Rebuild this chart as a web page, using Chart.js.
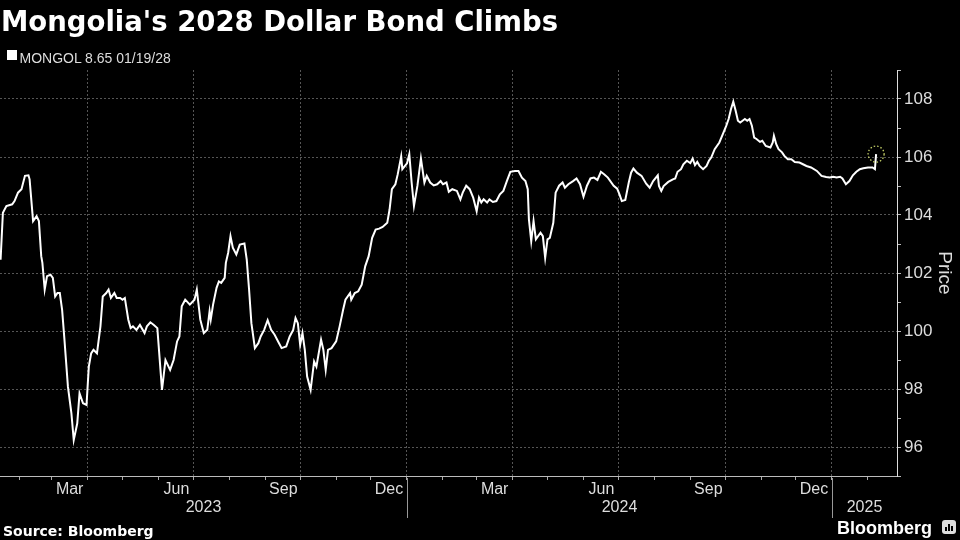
<!DOCTYPE html>
<html>
<head>
<meta charset="utf-8">
<script src="https://cdn.jsdelivr.net/npm/chart.js@4.4.0/dist/chart.umd.min.js"></script>
<style>
  html, body { margin: 0; padding: 0; background: #000; }
  #wrap { position: relative; width: 960px; height: 540px; overflow: hidden; background: #000; }
  #chart { position: absolute; left: 0; top: 0; }
  .txt { position: absolute; white-space: nowrap; line-height: 1; }
  #title { left: 1px; top: 5px; font: bold 27.5px "DejaVu Sans"; color: #fff; }
  #legend { left: 7px; top: 50px; font: 14px "Liberation Sans"; color: #ddd; }
  #legend .box { position: absolute; left: 0; top: 0; width: 10px; height: 10px; background: #fff; }
  #legend span { position: absolute; left: 12.5px; top: 0; }
  #source { left: 3px; top: 522.5px; font: bold 14px "DejaVu Sans"; color: #fff; }
  #logo { left: 837px; top: 518px; font: bold 18px "Liberation Sans"; color: #fff; }
  #icon { position: absolute; left: 942px; top: 520px; width: 14px; height: 14px; background: #ddd; border-radius: 3px; }
  #icon i { position: absolute; bottom: 3px; width: 2px; background: #000; }
</style>
</head>
<body>
<div id="wrap">
  <canvas id="chart" width="960" height="540"></canvas>
  <div id="title" class="txt">Mongolia's 2028 Dollar Bond Climbs</div>
  <div id="legend" class="txt"><div class="box"></div><span>MONGOL 8.65 01/19/28</span></div>
  <div id="source" class="txt">Source: Bloomberg</div>
  <div id="logo" class="txt">Bloomberg</div>
  <div id="icon"><i style="left:3px;height:4px"></i><i style="left:6px;height:7px"></i><i style="left:9px;height:5px"></i></div>
</div>
<script>
// days counted from 2023-01-01
const days = [15,17,20,25,27,30,33,36,39,40,43,46,48,50,51,53,55,58,60,62,64,66,68,70,73,76,78,81,83,86,89,91,93,95,98,
  101,103,106,108,110,113,115,118,120,122,125,127,129,132,135,139,141,144,147,150,154,155,157,161,164,167,169,171,174,178,
  182,184,187,190,193,195,196,198,201,203,205,208,209,211,213,215,218,221,225,227,229,231,234,237,239,242,245,248,251,254,
  257,261,264,267,269,271,273,275,277,279,282,285,287,291,293,295,297,300,304,307,310,312,316,317,320,323,326,329,332,335,
  338,341,344,348,350,352,355,357,360,361,365,367,369,371,374,377,380,382,385,388,391,394,396,399,401,404,408,411,413,416,
  419,422,425,427,429,431,434,436,439,442,445,448,451,454,458,461,464,467,469,470,472,474,476,480,482,484,486,488,491,493,
  496,499,501,504,508,511,514,517,520,523,526,529,532,535,538,543,546,548,550,553,556,558,560,563,567,571,574,577,581,582,
  584,586,590,594,596,598,601,603,606,609,611,613,615,617,620,623,625,627,630,634,637,640,642,644,646,648,650,652,654,656,
  658,660,662,664,666,669,671,674,678,680,681,683,685,688,690,693,696,699,703,706,709,713,718,722,726,729,732,735,738,740,
  743,746,749,752,755,758,762,766,768,769]

const prices = [102.46,104.08,104.31,104.37,104.48,104.77,104.89,105.35,105.37,105.23,103.79,103.96,103.79,102.58,102.35,
  101.43,101.89,101.94,101.83,101.19,101.31,101.31,100.73,99.70,98.08,97.16,96.24,96.81,97.85,97.51,97.45,98.77,99.23,99.35,
  99.23,100.16,101.19,101.31,101.43,101.14,101.31,101.14,101.14,101.08,101.14,100.39,100.10,100.16,100.04,100.21,99.93,100.16,
  100.30,100.21,100.10,97.97,98.31,99.00,98.66,99.00,99.64,99.81,100.85,101.08,100.91,101.08,101.43,100.39,99.93,100.04,
  100.68,100.39,100.91,101.49,101.71,101.66,101.83,102.35,102.70,103.27,102.87,102.64,102.98,103.02,102.46,101.43,100.27,
  99.41,99.58,99.81,100.04,100.37,100.04,99.87,99.64,99.41,99.47,99.81,100.04,100.45,100.27,99.52,99.93,99.35,98.43,97.97,
  98.95,98.77,99.70,99.35,98.66,99.35,99.41,99.64,100.16,100.73,101.08,101.31,101.08,101.31,101.37,101.60,102.23,102.58,
  103.21,103.50,103.53,103.59,103.73,104.19,104.89,105.06,105.40,106.02,105.58,105.78,106.10,105.12,104.31,105.01,105.95,
  105.12,105.35,105.12,105.02,105.06,105.17,105.06,105.12,104.80,104.89,104.83,104.54,104.77,105.01,104.89,104.60,104.13,
  104.60,104.43,104.54,104.43,104.54,104.45,104.48,104.71,104.83,105.17,105.49,105.52,105.52,105.29,105.17,104.89,103.85,
  103.10,103.79,103.16,103.39,103.27,102.52,103.16,103.21,103.73,104.77,105.01,105.12,104.94,105.06,105.17,105.26,105.06,
  104.63,105.01,105.26,105.29,105.21,105.49,105.40,105.29,105.01,104.91,104.71,104.48,104.52,105.12,105.46,105.60,105.46,
  105.35,105.08,104.94,105.17,105.37,105.00,104.83,105.00,105.14,105.23,105.26,105.49,105.58,105.75,105.87,105.79,105.95,
  105.72,105.83,105.69,105.58,105.69,105.87,105.98,106.27,106.50,106.79,107.08,107.31,107.65,107.91,107.60,107.25,107.19,
  107.25,107.31,107.25,107.31,107.08,106.67,106.62,106.52,106.56,106.38,106.33,106.50,106.73,106.44,106.27,106.16,106.04,
  105.92,105.92,105.83,105.81,105.75,105.69,105.64,105.52,105.35,105.31,105.29,105.32,105.29,105.32,105.26,105.06,105.17,
  105.37,105.49,105.58,105.61,105.64,105.64,105.58,106.10]

const monthLabels = ['', '', 'Mar', '', '', 'Jun', '', '', 'Sep', '', '', 'Dec']
const years = [2023, 2024, 2025]
const xMin = 14.5
const xMax = 787

const base = Date.UTC(2023, 0, 1)
const dayOf = (y, m) => (Date.UTC(y, m, 1) - base) / 86400000

// month starts inside the visible range
const monthOf = new Map()
for (const y of years) {
  for (let m = 0; m < 12; m++) {
    const d = dayOf(y, m)
    if (d > xMin && d < xMax) monthOf.set(d, m)
  }
}

const isQuarter = (ctx) => ctx.tick && monthOf.get(ctx.tick.value) % 3 === 0

// year row, separators and the last-point marker
const extras = {
  id: 'extras',
  afterDraw(chart) {
    const {ctx} = chart
    const x = chart.scales.x
    ctx.save()
    ctx.font = '16px "Liberation Sans"'
    ctx.fillStyle = '#ddd'
    ctx.textAlign = 'center'
    ctx.textBaseline = 'middle'
    years.forEach((y) => {
      const a = Math.max(xMin, dayOf(y, 0))
      const b = Math.min(xMax, dayOf(y + 1, 0))
      ctx.fillText(String(y), (x.getPixelForValue(a) + x.getPixelForValue(b)) / 2, 508)
      if (dayOf(y, 0) > xMin) {
        const px = Math.round(x.getPixelForValue(dayOf(y, 0))) + 0.5
        ctx.strokeStyle = '#999'
        ctx.lineWidth = 1
        ctx.beginPath()
        ctx.moveTo(px, 478)
        ctx.lineTo(px, 518)
        ctx.stroke()
      }
    })
    const pts = chart.getDatasetMeta(0).data
    const last = pts[pts.length - 1]
    ctx.strokeStyle = '#c8d46a'
    ctx.lineWidth = 1.3
    ctx.setLineDash([1.5, 2])
    ctx.beginPath()
    ctx.arc(last.x, last.y, 8, 0, Math.PI * 2)
    ctx.stroke()
    ctx.restore()
  }
}

new Chart(document.getElementById('chart'), {
  type: 'line',
  data: {
    datasets: [{
      label: 'MONGOL 8.65 01/19/28',
      data: days.map((d, i) => ({x: d, y: prices[i]})),
      borderColor: '#fff',
      borderWidth: 2,
      pointRadius: 0,
      tension: 0
    }]
  },
  options: {
    responsive: false,
    animation: false,
    layout: { padding: { left: 0, right: 0, top: 70, bottom: 34 } },
    plugins: { legend: { display: false }, tooltip: { enabled: false } },
    scales: {
      x: {
        type: 'linear',
        min: xMin,
        max: xMax,
        afterFit: (s) => { s.height = 30 },
        afterBuildTicks: (s) => { s.ticks = [...monthOf.keys()].map((v) => ({value: v})) },
        ticks: {
          autoSkip: false,
          maxRotation: 0,
          color: '#ddd',
          font: { family: 'Liberation Sans', size: 16 },
          padding: 0,
          labelOffset: 18,
          callback: (v) => monthLabels[monthOf.get(v)] || ''
        },
        grid: {
          color: (ctx) => isQuarter(ctx) ? '#555' : 'rgba(0,0,0,0)',
          tickColor: '#aaa',
          tickLength: 4
        },
        border: { color: '#bbb', dash: [2, 2] }
      },
      y: {
        position: 'right',
        min: 95,
        max: 109,
        afterFit: (s) => { s.width = 63 },
        ticks: {
          stepSize: 1,
          color: '#ddd',
          font: { family: 'Liberation Sans', size: 17 },
          padding: 3,
          callback: (v) => v % 2 === 0 ? v : ''
        },
        grid: {
          color: (ctx) => ctx.tick && ctx.tick.value % 2 === 0 ? '#555' : 'rgba(0,0,0,0)',
          tickColor: '#bbb',
          tickLength: 4
        },
        border: { color: '#ddd', dash: [2, 2] },
        title: {
          display: true,
          text: 'Price',
          color: '#ddd',
          font: { family: 'Liberation Sans', size: 19 }
        }
      }
    }
  },
  plugins: [extras]
})
</script>
</body>
</html>
